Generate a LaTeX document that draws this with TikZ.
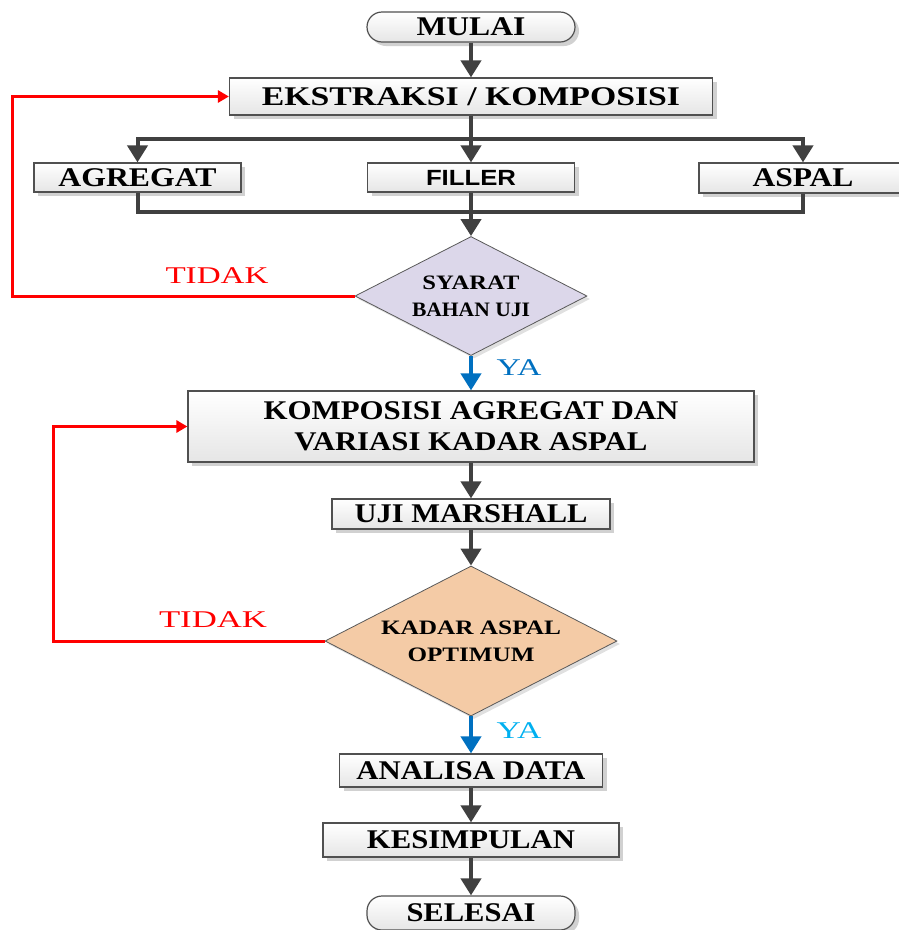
\documentclass[tikz,border=0pt]{standalone}
\usepackage{fontspec}
\setmainfont{Liberation Serif}
\newfontfamily\sansfnt{Liberation Sans}
\usetikzlibrary{arrows.meta,shapes.geometric,shadows}
\definecolor{lineC}{HTML}{404040}
\definecolor{boxline}{HTML}{505050}
\definecolor{lav}{HTML}{DCD7EA}
\definecolor{peach}{HTML}{F4CBA6}
\definecolor{yaA}{HTML}{0070C0}
\definecolor{yaB}{HTML}{00B0F0}
\definecolor{redC}{HTML}{FF0000}
\newcommand\fw[2]{\resizebox{#1pt}{\height}{#2}}
\begin{document}
\begin{tikzpicture}[x=1pt,y=-1pt,
  box/.style={draw=boxline, line width=1.2pt, top color=white, bottom color=black!10,
    drop shadow={shadow xshift=4pt,shadow yshift=-4pt,fill=black!18,opacity=1},
    inner sep=0pt, font=\fontsize{27}{31}\selectfont\bfseries, align=center},
  term/.style={box, rounded corners=15pt},
  dec/.style={diamond, shape aspect=1.95, draw=black!65, line width=0.8pt, inner sep=0pt,
    drop shadow={shadow xshift=3pt,shadow yshift=-3pt,fill=black!12,opacity=1},
    font=\fontsize{20.5}{27}\selectfont\bfseries, align=center},
  flow/.style={draw=lineC, line width=4pt},
  arr/.style={flow, -{Triangle[width=20pt,length=17pt]}},
  noarr/.style={draw=redC, line width=3pt, -{Triangle[width=12pt,length=11pt]}},
  yesarr/.style={line width=4pt, -{Triangle[width=20pt,length=17pt]}},
  lbl/.style={font=\fontsize{24}{24}\selectfont, inner sep=0pt}
]
\useasboundingbox (0,0) rectangle (899,930);

% nodes
\node[term, minimum width=208pt, minimum height=30pt] (start) at (471,27) {\fw{109}{MULAI}};
\node[box, minimum width=483pt, minimum height=37pt] (ext) at (471,96.5) {\fw{418}{EKSTRAKSI / KOMPOSISI}};
\node[box, minimum width=207pt, minimum height=29pt] (agg) at (137.5,177.5) {\fw{158}{AGREGAT}};
\node[box, minimum width=207pt, minimum height=29pt] (fil) at (471,177.5) {\sansfnt\fontsize{22}{24}\selectfont\bfseries\fw{90}{FILLER}};
\node[box, minimum width=208pt, minimum height=30pt] (asp) at (803,178) {\fw{101}{ASPAL}};
\node[dec, fill=lav, minimum width=232pt, minimum height=119pt] (d1) at (471,296)
  {\fw{97}{SYARAT}\\\fw{118}{BAHAN UJI}};
\node[box, minimum width=566pt, minimum height=71pt] (comp) at (471,426.5)
  {\fw{415}{KOMPOSISI AGREGAT DAN}\\\fw{353}{VARIASI KADAR ASPAL}};
\node[box, minimum width=278pt, minimum height=30pt] (uji) at (471,514) {\fw{233}{UJI MARSHALL}};
\node[dec, fill=peach, minimum width=292pt, minimum height=150pt] (d2) at (471,641)
  {\fw{180}{KADAR ASPAL}\\\fw{127}{OPTIMUM}};
\node[box, minimum width=263pt, minimum height=33pt] (ana) at (471,770.5) {\fw{229}{ANALISA DATA}};
\node[box, minimum width=296pt, minimum height=34pt] (kes) at (471,840) {\fw{208}{KESIMPULAN}};
\node[term, minimum width=208pt, minimum height=34pt] (fin) at (471,913) {\fw{129}{SELESAI}};

% labels
\node[lbl, text=redC] (t1) at (217,276) {\fw{103}{TIDAK}};
\node[lbl, text=redC] (t2) at (213,620) {\fw{108}{TIDAK}};
\node[lbl, text=yaA] (y1) at (519,368) {\fw{45}{YA}};
\node[lbl, text=yaB] (y2) at (519,731) {\fw{45}{YA}};

% helper coordinates
\coordinate (j1) at (471,139);
\coordinate (j2) at (471,212);
\coordinate (r1) at (12,296);
\coordinate (r2) at (53,641);

% connectors
\draw[arr] (start.south) -- (ext.north);
\draw[flow] (ext.south) -- (j1);
\draw[arr] (j1) -- (fil.north);
\draw[arr] (j1) -| (agg.north);
\draw[arr] (j1) -| (asp.north);
\draw[flow] (agg.south) |- (j2) -| (asp.south);
\draw[arr] (fil.south) -- (d1.north);
\draw[noarr] (d1.west) -- (r1) |- (ext.west);
\draw[yesarr, draw=yaA, color=yaA] (d1.south) -- (comp.north);
\draw[arr] (comp.south) -- (uji.north);
\draw[arr] (uji.south) -- (d2.north);
\draw[noarr] (d2.west) -- (r2) |- (comp.west);
\draw[yesarr, draw=yaA, color=yaA] (d2.south) -- (ana.north);
\draw[arr] (ana.south) -- (kes.north);
\draw[arr] (kes.south) -- (fin.north);
\end{tikzpicture}
\end{document}
